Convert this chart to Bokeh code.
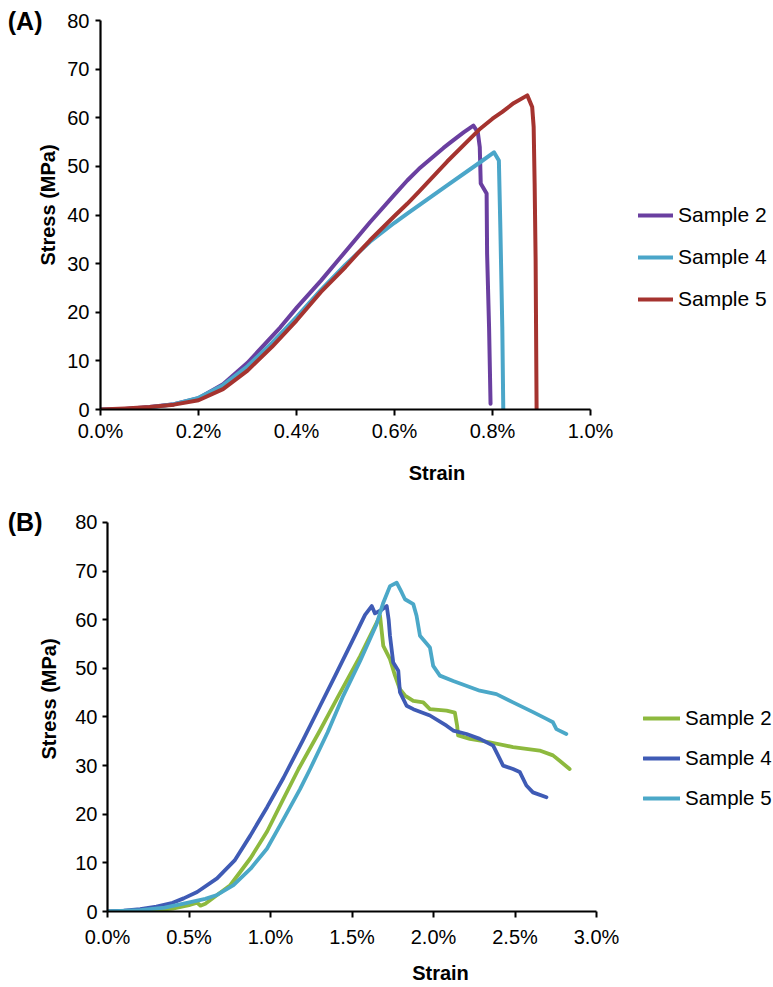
from bokeh.plotting import figure
from bokeh.models import (Range1d, FixedTicker, PrintfTickFormatter, Legend, LegendItem,
                          LinearAxis)
from bokeh.embed import file_html
from bokeh.resources import INLINE

FONT = "Liberation Sans"

# ---------------- Panel (A) data: strain (%) vs stress (MPa) ----------------
a_s2_x = [0.00, 0.05, 0.10, 0.15, 0.20, 0.25, 0.30, 0.367, 0.401, 0.45, 0.49, 0.55, 0.60, 0.626, 0.65,
          0.70, 0.715, 0.741, 0.761, 0.770, 0.774, 0.776, 0.788, 0.789, 0.793, 0.796]
a_s2_y = [0.0, 0.1, 0.5, 1.1, 2.3, 5.2, 9.6, 16.9, 21.0, 26.5, 31.3, 38.5, 44.2, 47.1, 49.5,
          53.8, 55.0, 57.0, 58.4, 57.0, 54.0, 46.5, 44.4, 32.0, 16.9, 1.2]

a_s4_x = [0.00, 0.05, 0.10, 0.15, 0.20, 0.25, 0.30, 0.35, 0.40, 0.45, 0.50, 0.55, 0.60, 0.626, 0.7075,
          0.7755, 0.803, 0.813, 0.816, 0.820, 0.822]
a_s4_y = [0.0, 0.05, 0.4, 1.1, 2.4, 5.0, 8.9, 13.7, 19.0, 24.6, 29.8, 34.5, 38.4, 40.3, 46.1,
          50.9, 52.9, 51.2, 37.5, 16.9, 0.1]

a_s5_x = [0.00, 0.05, 0.10, 0.15, 0.20, 0.25, 0.30, 0.35, 0.40, 0.45, 0.50, 0.524, 0.55, 0.60, 0.626,
          0.65, 0.7075, 0.7755, 0.80, 0.82, 0.843, 0.871, 0.881, 0.884, 0.886, 0.888, 0.890]
a_s5_y = [0.0, 0.2, 0.5, 1.0, 1.9, 4.2, 8.0, 12.9, 18.3, 24.2, 29.3, 32.0, 34.8, 39.8, 42.3,
          44.8, 51.0, 57.8, 59.8, 61.2, 63.0, 64.6, 62.2, 58.1, 46.5, 30.7, 0.2]

a_xticks = [0.0, 0.2, 0.4, 0.6, 0.8, 1.0]

# ---------------- Panel (B) data ----------------
b_s2_x = [0.00, 0.25, 0.40, 0.50, 0.55, 0.57, 0.60, 0.753, 0.876, 0.98, 1.08, 1.172, 1.30, 1.407, 1.55,
          1.672, 1.692, 1.733, 1.764, 1.794, 1.825, 1.876, 1.937, 1.978, 2.08, 2.131, 2.145, 2.151,
          2.223, 2.345, 2.488, 2.651, 2.733, 2.774, 2.835]
b_s2_y = [0.0, 0.1, 0.6, 1.3, 1.8, 1.2, 1.6, 5.4, 10.9, 16.5, 23.2, 29.3, 37.0, 43.7, 52.5,
          60.8, 54.6, 51.9, 48.5, 45.7, 44.4, 43.3, 43.0, 41.6, 41.3, 40.9, 38.2, 36.2,
          35.5, 34.8, 33.8, 33.1, 32.1, 31.0, 29.3]

b_s4_x = [0.00, 0.10, 0.20, 0.30, 0.40, 0.467, 0.55, 0.672, 0.78, 0.876, 0.98, 1.08, 1.20, 1.30, 1.40,
          1.50, 1.58, 1.621, 1.641, 1.68, 1.713, 1.725, 1.733, 1.753, 1.784, 1.794, 1.835, 1.876,
          1.978, 2.080, 2.121, 2.203, 2.284, 2.366, 2.396, 2.427, 2.488, 2.529, 2.570, 2.610, 2.693]
b_s4_y = [0.0, 0.2, 0.5, 1.0, 1.8, 2.7, 4.0, 6.8, 10.5, 15.6, 21.5, 27.5, 35.3, 42.0, 48.7,
          55.5, 61.0, 62.8, 61.3, 62.0, 62.8, 60.0, 56.7, 51.2, 49.5, 45.1, 42.3, 41.6,
          40.3, 38.2, 37.2, 36.5, 35.5, 34.1, 32.1, 30.0, 29.3, 28.7, 25.9, 24.5, 23.5]

b_s5_x = [0.00, 0.20, 0.35, 0.467, 0.60, 0.672, 0.773, 0.878, 0.978, 1.08, 1.182, 1.243, 1.35, 1.447,
          1.55, 1.65, 1.692, 1.733, 1.774, 1.805, 1.825, 1.876, 1.896, 1.917, 1.978, 1.998, 2.039,
          2.121, 2.284, 2.386, 2.488, 2.611, 2.693, 2.733, 2.754, 2.815]
b_s5_y = [0.0, 0.3, 0.8, 1.6, 2.6, 3.4, 5.4, 8.8, 12.9, 19.0, 25.2, 29.3, 36.8, 44.4,
          51.5, 59.0, 63.5, 66.9, 67.6, 65.6, 64.2, 63.2, 60.8, 56.7, 54.3, 50.5, 48.5,
          47.4, 45.4, 44.7, 43.0, 41.0, 39.6, 38.9, 37.5, 36.5]

b_xticks = [0.0, 0.5, 1.0, 1.5, 2.0, 2.5, 3.0]

yticks = [0, 10, 20, 30, 40, 50, 60, 70, 80]
labels = ["Sample 2", "Sample 4", "Sample 5"]


def make_panel(width, height, xmax, xticks, left, plot_w, plot_h, bottom,
               series, colors, lw, tick_std, title_std, ytick_std, ytitle_std,
               leg_loc, leg_spacing, glyph_w, leg_font, panel_label, panel_std):
    # the frame spans from the left border to the right edge of the figure; the axes are
    # bounded to the data range and the free area on the right holds the legend
    frame_w = width - left
    x_end = xmax * frame_w / plot_w
    frame_h = height - bottom
    y_end = 80.0 * frame_h / plot_h
    p = figure(width=width, height=height, output_backend="svg", toolbar_location=None,
               x_range=Range1d(0, x_end), y_range=Range1d(0, y_end),
               min_border_left=left, min_border_right=0,
               min_border_top=0, min_border_bottom=bottom)
    p.outline_line_color = None
    p.xgrid.grid_line_color = None
    p.ygrid.grid_line_color = None
    p.background_fill_color = "white"

    rends = []
    for (xs, ys), c in zip(series, colors):
        rends.append(p.line(xs, ys, line_color=c, line_width=lw,
                            line_join="round", line_cap="round"))

    for ax in (p.xaxis[0], p.yaxis[0]):
        ax.axis_line_width = 2.2
        ax.axis_line_color = "black"
        ax.major_tick_line_width = 2
        ax.major_tick_line_color = "black"
        ax.major_tick_in = 0
        ax.minor_tick_line_color = None
        ax.major_label_text_font = FONT
        ax.major_label_text_font_size = "20px"
        ax.major_label_text_color = "black"
        ax.major_label_text_line_height = 1.0
        ax.axis_label_text_font = FONT
        ax.axis_label_text_font_size = "20px"
        ax.axis_label_text_font_style = "bold"
        ax.axis_label_text_color = "black"
        ax.axis_label_text_line_height = 1.0

    p.xaxis[0].ticker = FixedTicker(ticks=xticks)
    p.xaxis[0].bounds = (0, xmax)
    p.xaxis[0].formatter = PrintfTickFormatter(format="%.1f%%")
    p.xaxis[0].major_tick_out = 6
    p.xaxis[0].major_label_standoff = tick_std
    p.xaxis[0].axis_label = "Strain"
    p.xaxis[0].axis_label_standoff = title_std

    p.yaxis[0].ticker = FixedTicker(ticks=yticks)
    p.yaxis[0].bounds = (0, 80)
    p.yaxis[0].major_tick_out = 5
    p.yaxis[0].major_label_standoff = ytick_std
    p.yaxis[0].axis_label = "Stress (MPa)"
    p.yaxis[0].axis_label_standoff = ytitle_std

    # panel letter, written as the single label of an extra (invisible) left axis at y = 80
    tag = LinearAxis(ticker=FixedTicker(ticks=[80]), major_label_overrides={80: panel_label},
                     axis_line_color=None, major_tick_line_color=None,
                     minor_tick_line_color=None, major_tick_out=0, major_tick_in=0,
                     major_label_standoff=panel_std,
                     major_label_text_font=FONT, major_label_text_font_size="25px",
                     major_label_text_font_style="bold", major_label_text_color="black",
                     major_label_text_line_height=1.0)
    p.add_layout(tag, "left")

    items = [LegendItem(label=labels[i], renderers=[rends[i]]) for i in range(3)]
    leg = Legend(items=items, location=leg_loc, padding=0, margin=0,
                 border_line_alpha=0, background_fill_alpha=0,
                 label_text_font=FONT, label_text_font_size=leg_font,
                 label_text_color="black",
                 glyph_width=glyph_w, glyph_height=26, label_height=26,
                 label_standoff=5, spacing=leg_spacing)
    p.add_layout(leg)
    return p


top = make_panel(
    773, 486, 1.0, a_xticks, 100, 490, 389, 77,
    [(a_s2_x, a_s2_y), (a_s4_x, a_s4_y), (a_s5_x, a_s5_y)],
    ["#6A3FA0", "#4BA6C9", "#A5332F"], 4,
    4, 17, 6, 5, (538, 97), 16, 35, "21px", "(A)", -8)

bottom = make_panel(
    773, 500, 3.0, b_xticks, 107, 489, 390, 74,
    [(b_s2_x, b_s2_y), (b_s4_x, b_s4_y), (b_s5_x, b_s5_y)],
    ["#8DB93E", "#3F5BB5", "#4BA8C8"], 3.8,
    8, 11, 5, 12, (536, 100), 14, 37, "20.5px", "(B)", -7)

# two independent roots stacked on the page, so that each panel keeps its own y-axis position
with open("out.html", "w") as f:
    f.write(file_html([top, bottom], INLINE))
